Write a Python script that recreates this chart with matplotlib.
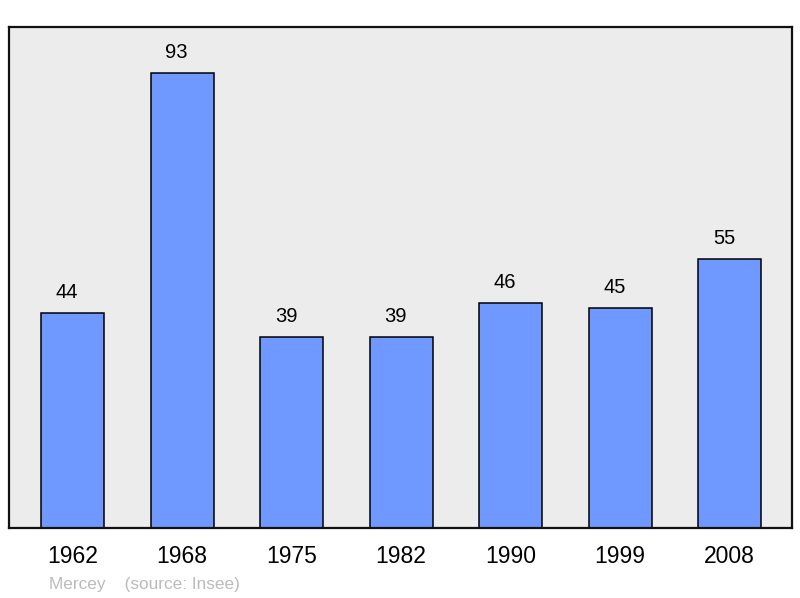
import matplotlib.pyplot as plt
import numpy as np

plt.rcParams['font.family'] = ['Liberation Sans', 'DejaVu Sans']

years = ['1962', '1968', '1975', '1982', '1990', '1999', '2008']
population = [44, 93, 39, 39, 46, 45, 55]

fig = plt.figure(figsize=(8, 5.98), dpi=100)
ax = fig.add_axes([9 / 800, 70 / 598, 783 / 800, 501 / 598])
ax.set_facecolor('#ececec')

x = np.arange(len(years))
bars = ax.bar(x, population, width=0.575, color='#7099ff', edgecolor='black', linewidth=1.1)

# value labels sit a little left of the bar centre in the original
for xi, v in zip(x, population):
    ax.annotate(str(v), (xi, v), xytext=(-4, 8), textcoords='offset points',
                ha='center', va='bottom', fontsize=14.5, color='black')

ax.set_xlim(-0.58, 6.57)
ax.set_ylim(0, 102.4)
ax.set_xticks(x)
ax.set_xticklabels(years, fontsize=16.5)
ax.tick_params(axis='x', length=0, pad=12)
ax.set_yticks([])
for s in ax.spines.values():
    s.set_linewidth(1.6)
    s.set_color('#111111')

fig.text(49 / 800, 1 - 584 / 598, 'Mercey    (source: Insee)', color='#bbbbbb',
         fontsize=12.4, va='center', ha='left')

fig.savefig('out.png', dpi=100)
